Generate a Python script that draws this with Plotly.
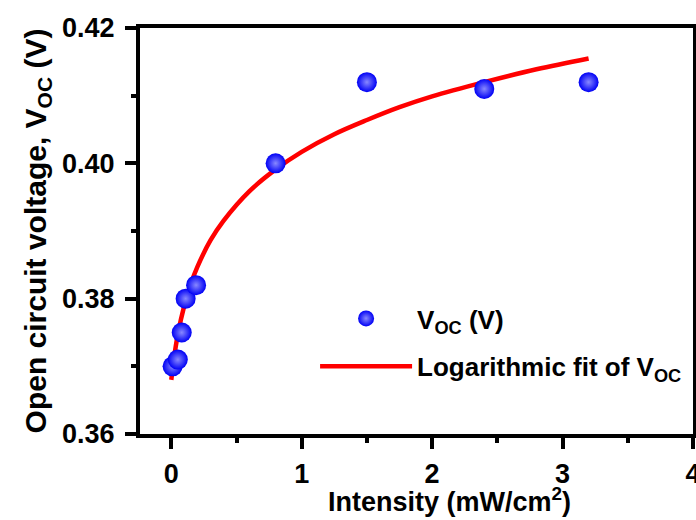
import plotly.graph_objects as go

# Measured data
intensity = [0.01, 0.05, 0.08, 0.11, 0.19, 0.8, 1.5, 2.4, 3.2]
voc = [0.370, 0.371, 0.375, 0.380, 0.382, 0.400, 0.412, 0.411, 0.412]

# Logarithmic fit curve
fit_x = [0.0, 0.02, 0.05, 0.1, 0.15, 0.2, 0.3, 0.4, 0.6, 0.8, 1.0, 1.25, 1.5, 1.75, 2.0, 2.4, 2.8, 3.2]
fit_y = [0.3680, 0.3711, 0.3747, 0.3790, 0.3822, 0.3847, 0.3886, 0.3915, 0.3959, 0.3991,
         0.4017, 0.4043, 0.4064, 0.4083, 0.4099, 0.4120, 0.4139, 0.4155]

x_ticks = [0, 1, 2, 3, 4]
y_ticks = [0.36, 0.38, 0.40, 0.42]
y_labels = ["0.36", "0.38", "0.40", "0.42"]

FONT = "Liberation Sans, Arial, sans-serif"

fig = go.Figure()
fig.add_trace(go.Scatter(
    x=fit_x, y=fit_y, mode="lines", line=dict(color="#ff0000", width=4.5, shape="spline"),
    name="<b>Logarithmic fit of V<sub>OC</sub></b>", legendgroup="b", legendrank=2,
))
fig.add_trace(go.Scatter(
    x=intensity, y=voc, mode="markers",
    marker=dict(size=20, color="#0000f5", line=dict(width=0),
                gradient=dict(type="radial", color="#8888ff")),
    name="<b>V<sub>OC</sub> (V)</b>", legendgroup="a", legendrank=1,
))

axis_common = dict(
    showline=True, linecolor="black", linewidth=4, mirror=True,
    ticks="outside", ticklen=11, tickwidth=3.5, tickcolor="black",
    showgrid=False, zeroline=False, automargin=False,
    tickfont=dict(family=FONT, size=27, color="black", weight="bold"),
)

fig.update_xaxes(
    range=[-0.24, 4.0005], tickvals=x_ticks, ticktext=[str(v) for v in x_ticks],
    minor=dict(dtick=0.5, ticks="outside", ticklen=5, tickwidth=3.5, tickcolor="black"),
    ticklabelstandoff=2, ticklabeloverflow="allow",
    **axis_common,
)
fig.update_yaxes(
    range=[0.36, 0.42], tickvals=y_ticks, ticktext=y_labels,
    minor=dict(dtick=0.01, ticks="outside", ticklen=5, tickwidth=3.5, tickcolor="black"),
    ticklabelstandoff=5,
    title=dict(text="<b>Open circuit voltage, V<sub>OC</sub> (V)</b>", font=dict(family=FONT, size=30, color="black"),
               standoff=8),
    **axis_common,
)

fig.add_annotation(
    text="<b>Intensity (mW/cm<sup>2</sup>)</b>", xref="paper", yref="paper",
    x=0.559, y=-0.1626, xanchor="center", yanchor="middle", showarrow=False,
    font=dict(family=FONT, size=27, color="black"),
)

fig.update_layout(
    width=696, height=520,
    margin=dict(l=140, r=3, t=28, b=86),
    paper_bgcolor="white", plot_bgcolor="white",
    showlegend=True,
    legend=dict(
        x=0.3166, y=0.3424, xanchor="left", yanchor="top",
        bgcolor="rgba(0,0,0,0)", borderwidth=0,
        font=dict(family=FONT, size=26, color="black"),
        itemwidth=92, traceorder="grouped", tracegroupgap=11,
    ),
)

fig.write_html("out.html", config={"displayModeBar": False},
               post_script="document.body.style.margin='0';")
